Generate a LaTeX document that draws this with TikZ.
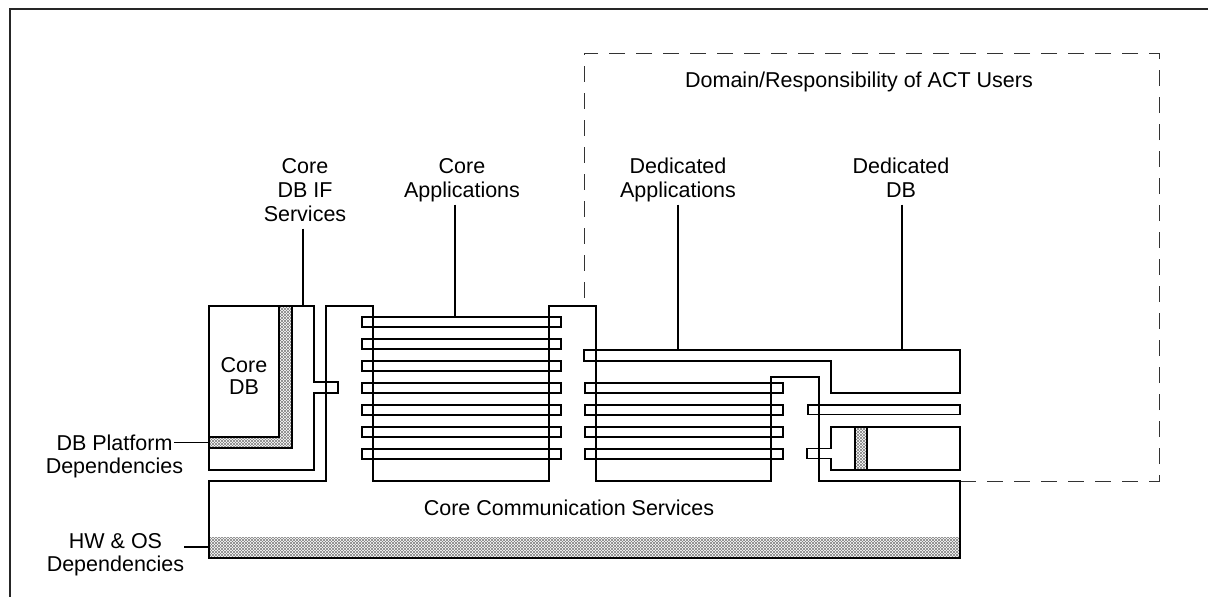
\documentclass[tikz,border=0pt]{standalone}
\usepackage{fontspec}
\setmainfont{Liberation Sans}
\usetikzlibrary{patterns}
\begin{document}
\begin{tikzpicture}[x=1pt,y=-1pt,
  ln/.style={line width=1.8pt, line join=miter},
  thinln/.style={line width=1.2pt},
  frame/.style={line width=2pt, black!85},
  domainbox/.style={line width=0.9pt, black!80, dash pattern=on 16pt off 11pt},
  hatch/.style={pattern=north east lines, pattern color=black!50,
                postaction={pattern=north west lines, pattern color=black!50}},
  lbl/.style={font=\fontsize{21.5}{24}\selectfont, align=center, inner sep=0pt}]
\useasboundingbox (0,0) rectangle (1208,597);

% outer frame (clipped by the page)
\draw[frame] (10,597) -- (10,9.3) -- (1208,9.3);

% domain of ACT users (dashed)
\draw[domainbox] (960,481) -- (1159,481) -- (1159,53) -- (584,53) -- (584,306);

% hatched areas
\fill[hatch] (209,537) rectangle (960,558);
\fill[hatch] (279,306) -- (292,306) -- (292,448) -- (209,448) -- (209,437) -- (279,437) -- cycle;
\fill[hatch] (855,427) rectangle (866.7,470);

% core communication services (comb)
\draw[ln] (209,481) -- (326,481) -- (326,306) -- (373,306) -- (373,481) -- (549,481)
  -- (549,306) -- (596,306) -- (596,481) -- (771,481) -- (771,377) -- (819,377)
  -- (819,481) -- (960,481) -- (960,558) -- (209,558) -- cycle;

% core DB + core DB IF services
\draw[ln] (209,306) -- (314,306) -- (314,382) -- (338,382) -- (338,393) -- (314,393)
  -- (314,470) -- (209,470) -- cycle;
\draw[ln] (279,306) -- (279,437) -- (209,437);
\draw[ln] (292,306) -- (292,448) -- (209,448);

% core application slats
\foreach \t in {317,339,361,383,405,427,449}
  \draw[ln] (362,\t) rectangle (561,\t+10.3);

% dedicated application slats
\foreach \t in {383,405,427,449}
  \draw[ln] (585,\t) rectangle (783,\t+10.3);

% dedicated DB
\draw[ln] (584,350) -- (960,350) -- (960,393) -- (831,393) -- (831,361) -- (584,361) -- cycle;
\draw[ln] (808,405) rectangle (960,414.5);
\draw[ln] (831,427) -- (960,427) -- (960,470) -- (831,470) -- (831,458.5) -- (807,458.5)
  -- (807,448.5) -- (831,448.5) -- cycle;
\draw[ln] (855,427) -- (855,470);
\draw[ln] (866.7,427) -- (866.7,470);

% labels
\node[lbl, anchor=base] (dom) at (859,87.5) {Domain/Responsibility of ACT Users};
\node[lbl, anchor=north] (cdbif) at (305,156.2) {Core\strut\\DB IF\strut\\Services\strut};
\node[lbl, anchor=north] (capp) at (462,156.2) {Core\strut\\Applications\strut};
\node[lbl, anchor=north] (dapp) at (678,156.2) {Dedicated\strut\\Applications\strut};
\node[lbl, anchor=north] (ddb) at (901,156.2) {Dedicated\strut\\DB\strut};
\node[lbl, font=\fontsize{21.5}{21}\selectfont, anchor=north] (cdb) at (244,357.3) {Core\strut\\DB\strut};
\node[lbl, anchor=base] (ccs) at (569,515.5) {Core Communication Services};
\node[lbl, font=\fontsize{21.5}{22}\selectfont, anchor=north] (dbp) at (114.5,434.6) {DB Platform\strut\\Dependencies\strut};
\node[lbl, font=\fontsize{21.5}{23.4}\selectfont, anchor=north] (hw) at (115.5,531.9) {HW \& OS\strut\\Dependencies\strut};

% leaders
\coordinate (cdbifF) at (303,306);
\coordinate (cappF) at (455,317);
\coordinate (dappF) at (678,350);
\coordinate (ddbF) at (902,350);
\coordinate (dbpS) at (174,442.7);
\coordinate (dbpF) at (209,442.7);
\coordinate (hwF) at (209,547);
\draw[ln] (cdbif.south -| cdbifF) -- (cdbifF);
\draw[ln] (capp.south -| cappF) -- (cappF);
\draw[ln] (dapp.south -| dappF) -- (dappF);
\draw[ln] (ddb.south -| ddbF) -- (ddbF);
\draw[thinln] (dbpS) -- (dbpF);
\draw[thinln] (hw.east |- hwF) -- (hwF);
\end{tikzpicture}
\end{document}
